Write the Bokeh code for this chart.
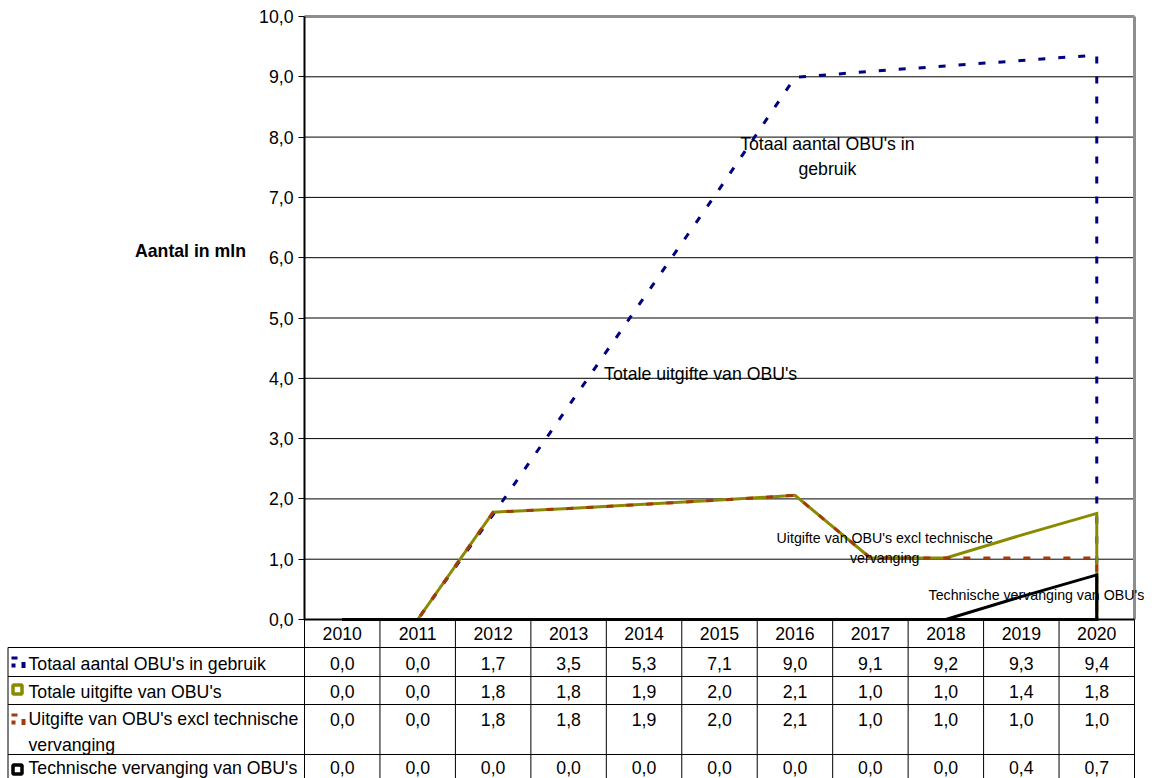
from bokeh.plotting import figure
from bokeh.models import Range1d, FixedTicker, CustomJSTickFormatter, LinearAxis
from bokeh.core.properties import value
from bokeh.embed import file_html
from bokeh.resources import INLINE

# ---- data (miljoen OBU's) ----
years = ["2010", "2011", "2012", "2013", "2014", "2015", "2016", "2017", "2018", "2019", "2020"]
totaal_in_gebruik = [0.0, 0.0, 1.74, 3.54, 5.34, 7.14, 8.99, 9.09, 9.18, 9.27, 9.36]
totale_uitgifte = [0.0, 0.0, 1.78, 1.84, 1.91, 1.98, 2.06, 1.02, 1.02, 1.40, 1.76]
uitgifte_excl = [0.0, 0.0, 1.78, 1.84, 1.91, 1.98, 2.06, 1.02, 1.02, 1.02, 1.02]
technische_vervanging = [0.0, 0.0, 0.0, 0.0, 0.0, 0.0, 0.0, 0.0, 0.0, 0.38, 0.74]

series_names = [
    "Totaal aantal OBU's in gebruik",
    "Totale uitgifte van OBU's",
    "Uitgifte van OBU's excl technische vervanging",
    "Technische vervanging van OBU's",
]
series_values = [totaal_in_gebruik, totale_uitgifte, uitgifte_excl, technische_vervanging]
y_ticks = list(range(0, 11))

# ---- styling ----
FONT = "Liberation Sans"
FS = "17.7px"
FS_SMALL = "14.2px"
BLUE = "#000080"
OLIVE = "#8a8a00"
RUST = "#a23a0c"
BLACK = "#000000"
GREY = "#8e8e8e"
series_styles = [
    dict(line_color=BLUE, line_dash="7 13"),
    dict(line_color=OLIVE, line_dash="solid"),
    dict(line_color=RUST, line_dash="7 13"),
    dict(line_color=BLACK, line_dash="solid"),
]

# ---- page geometry ----
W, H = 1155, 778
LEFT_PX, RIGHT_PX = 304, 1134      # plot area / year columns
TOP_PX, BOTTOM_PX = 16, 619
n = len(years)
COL_PX = (RIGHT_PX - LEFT_PX) / n
UNIT_PX = (BOTTOM_PX - TOP_PX) / 10.0
xc = [i + 0.5 for i in range(n)]   # category centres


def px_x(px):
    """Horizontal page pixel -> category units."""
    return (px - LEFT_PX) / COL_PX


def px_y(py):
    """Vertical page pixel -> value units."""
    return (BOTTOM_PX - py) / UNIT_PX


def fmt(v):
    return f"{v:.1f}".replace(".", ",")


p = figure(width=W, height=H,
           x_range=Range1d(px_x(0), px_x(W)), y_range=Range1d(px_y(H), px_y(0)),
           output_backend="svg", toolbar_location=None,
           x_axis_location=None, y_axis_location=None,
           min_border_left=0, min_border_right=0, min_border_top=0, min_border_bottom=0)
p.background_fill_color = "white"
p.border_fill_color = "white"
p.outline_line_color = None
p.xgrid.visible = False
p.ygrid.visible = False

# ---- chart area ----
grid_vals = [t for t in y_ticks if 0 < t < 10]
p.segment(x0=[0] * len(grid_vals), y0=grid_vals, x1=[n] * len(grid_vals), y1=grid_vals,
          line_color="black", line_width=1)
# plot-area border (top and right)
p.segment(x0=[0, n], y0=[10, 0], x1=[n, n], y1=[10, 10], line_color=GREY, line_width=3)

# value axis at the left edge of the plot area
yaxis = LinearAxis(fixed_location=0, bounds=(0, 10))
yaxis.ticker = FixedTicker(ticks=y_ticks)
yaxis.formatter = CustomJSTickFormatter(code="return tick.toFixed(1).replace('.', ',');")
yaxis.axis_line_color = "black"
yaxis.axis_line_width = 2
yaxis.major_tick_line_color = "black"
yaxis.major_tick_in = 0
yaxis.major_tick_out = 6
yaxis.minor_tick_line_color = None
yaxis.major_label_standoff = 5
yaxis.major_label_text_font = FONT
yaxis.major_label_text_font_size = FS
yaxis.major_label_text_color = "black"
p.add_layout(yaxis, "left")

# each series is an unfilled area outline (closed back along the baseline)
for vals, style in zip(series_values, series_styles):
    lx = xc + [xc[-1], xc[0]]
    ly = list(vals) + [0.0, 0.0]
    p.line(lx, ly, line_width=3, line_join="miter", **style)

# category axis line
p.segment(x0=[0], y0=[0], x1=[n], y1=[0], line_color="black", line_width=2)

in_plot_labels = [
    ("Totaal aantal OBU's in\ngebruik", 6.93, 7.68, FS),
    ("Totale uitgifte van OBU's", 5.25, 4.07, FS),
    ("Uitgifte van OBU's excl technische\nvervanging", 7.69, 1.18, FS_SMALL),
    ("Technische vervanging van OBU's", 9.70, 0.41, FS_SMALL),
]
for txt, x, y, fs in in_plot_labels:
    p.text(x=[x], y=[y], text=[txt], text_align="center", text_baseline="middle",
           text_font=value(FONT), text_font_size=fs, text_color="black", text_line_height=1.25)

p.text(x=[px_x(190)], y=[6.11], text=["Aantal in mln"], text_align="center",
       text_baseline="middle", text_font=value(FONT), text_font_size=FS,
       text_font_style="bold", text_color="black")

# ---- data table ----
row_lines = [647, 676, 704, 754]
x_left = px_x(7.5)
ry = [px_y(v) for v in row_lines]
p.segment(x0=[x_left] * len(ry), y0=ry, x1=[n] * len(ry), y1=ry, line_color="black", line_width=1)
p.segment(x0=list(range(n + 1)), y0=[0] * (n + 1), x1=list(range(n + 1)), y1=[px_y(H)] * (n + 1),
          line_color="black", line_width=1)
p.segment(x0=[x_left], y0=[ry[0]], x1=[x_left], y1=[px_y(H)], line_color="black", line_width=1)

# year header
p.text(x=xc, y=[px_y(633)] * n, text=years, text_align="center", text_baseline="middle",
       text_font=value(FONT), text_font_size=FS, text_color="black")

# row labels (the long name wraps over two lines)
wrapped = [name if len(name) < 40 else name.replace(" vervanging", "\nvervanging") for name in series_names]
label_y = [px_y(v) for v in (663, 691, 731, 767)]
p.text(x=[px_x(28)] * len(wrapped), y=label_y, text=wrapped, text_align="left",
       text_baseline="middle", text_font=value(FONT), text_font_size=FS, text_color="black",
       text_line_height=1.3)

# values
value_y = [px_y(v) for v in (663, 691, 719, 767)]
for vals, yy in zip(series_values, value_y):
    p.text(x=xc, y=[yy] * n, text=[fmt(v) for v in vals], text_align="center",
           text_baseline="middle", text_font=value(FONT), text_font_size=FS, text_color="black")

# legend keys
for (yy, color) in [(689, OLIVE), (769, BLACK)]:
    p.rect(x=[px_x(17)], y=[px_y(yy)], width=9, height=9, width_units="screen", height_units="screen",
           fill_color=None, line_color=color, line_width=3.5)
for (yy, color) in [(661, BLUE), (718, RUST)]:
    p.rect(x=[px_x(14), px_x(13), px_x(23)], y=[px_y(yy - 3.5), px_y(yy + 4), px_y(yy + 3.5)],
           width=[6, 4, 4], height=[3, 4, 6], width_units="screen", height_units="screen",
           fill_color=color, line_color=None)

open("out.html", "w").write(file_html(p, INLINE))
